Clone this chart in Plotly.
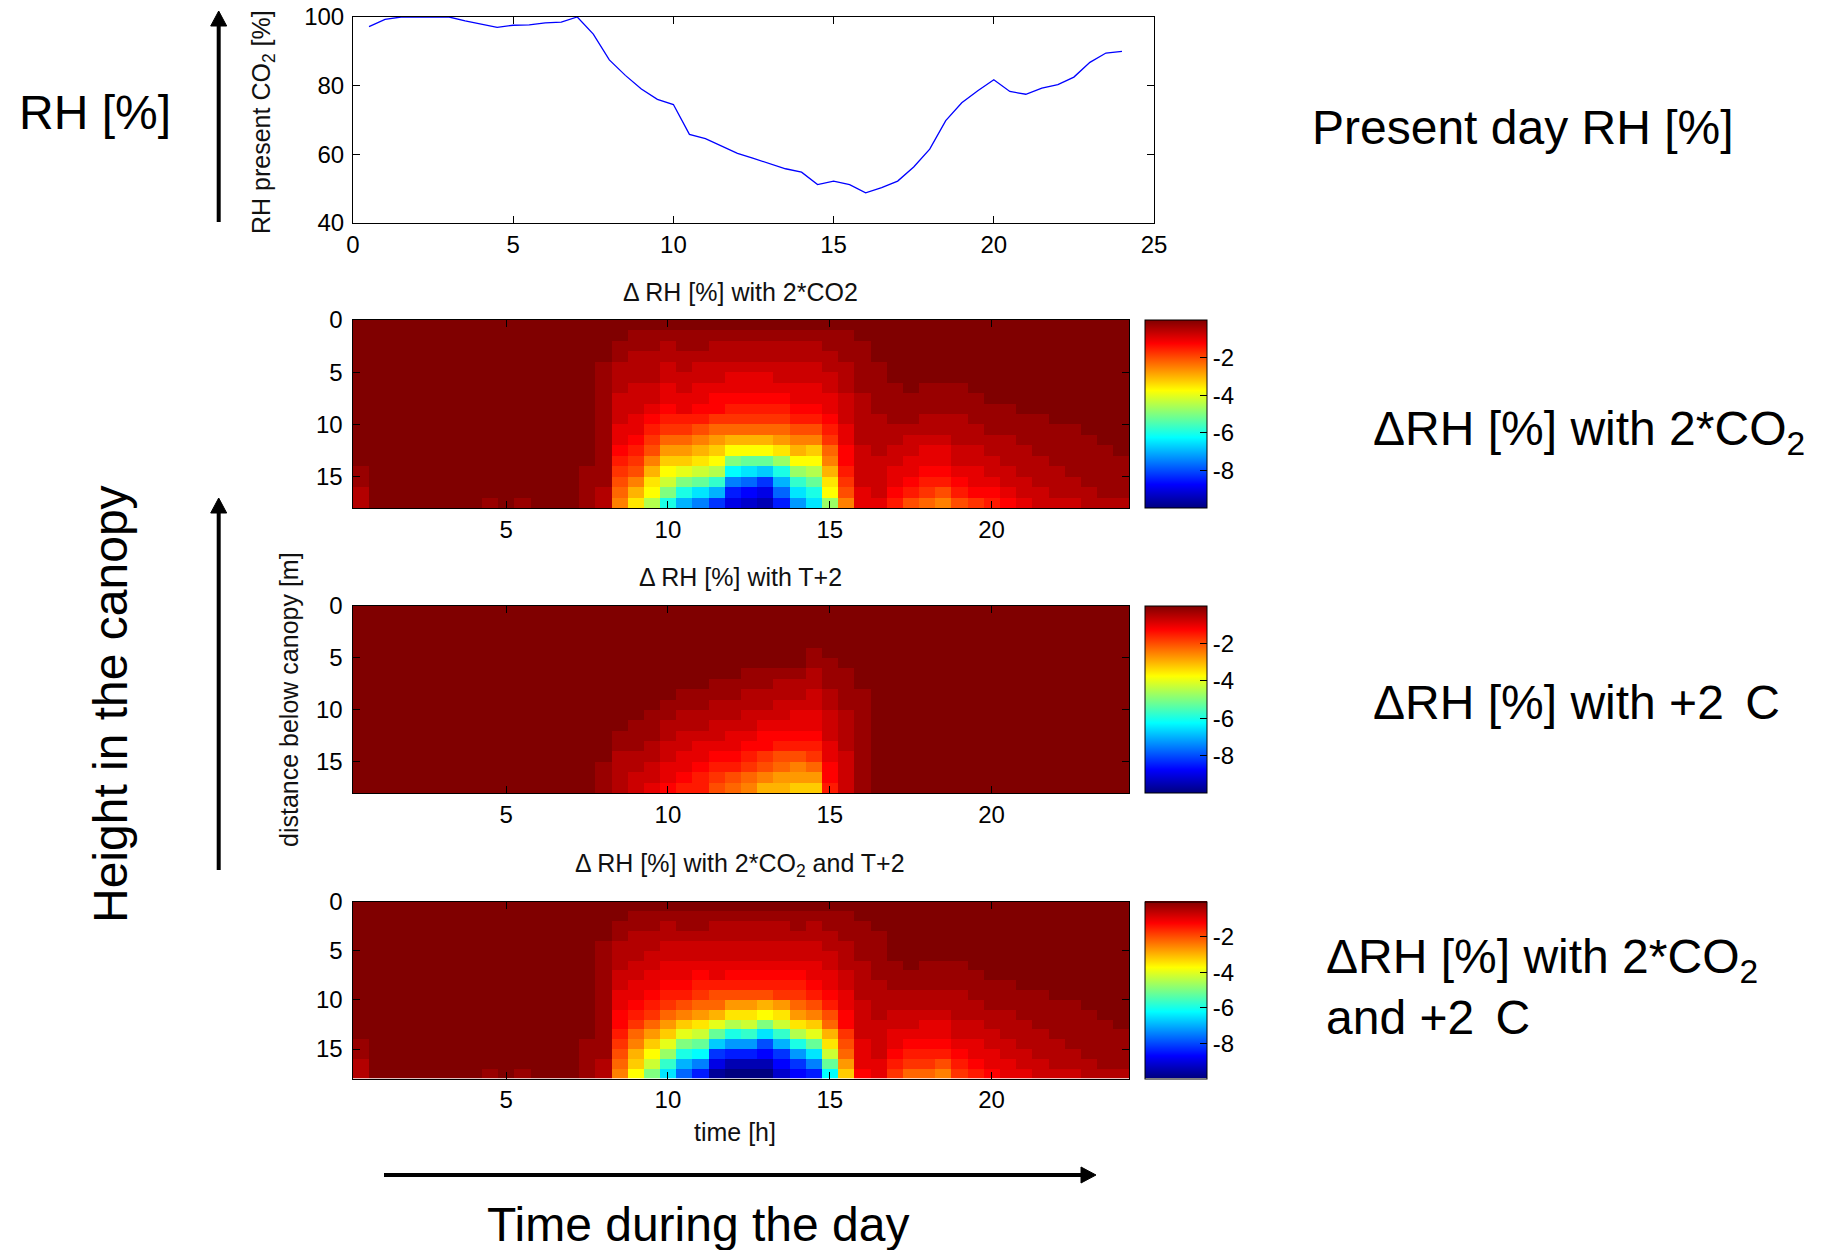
import plotly.graph_objects as go

W, H = 1824, 1250

# ---------------- data ----------------
HOURS = [0.5, 1.0, 1.5, 2.0, 2.5, 3.0, 3.5, 4.0, 4.5, 5.0, 5.5, 6.0,
         6.5, 7.0, 7.5, 8.0, 8.5, 9.0, 9.5, 10.0, 10.5, 11.0, 11.5, 12.0,
         12.5, 13.0, 13.5, 14.0, 14.5, 15.0, 15.5, 16.0, 16.5, 17.0, 17.5, 18.0,
         18.5, 19.0, 19.5, 20.0, 20.5, 21.0, 21.5, 22.0, 22.5, 23.0, 23.5, 24.0]

DEPTHS = [0.5, 1.5, 2.5, 3.5, 4.5, 5.5, 6.5, 7.5, 8.5, 9.5, 10.5, 11.5,
          12.5, 13.5, 14.5, 15.5, 16.5, 17.5]

RH_PRESENT = [97.2, 99.3, 100.0, 100.0, 100.0, 100.0, 98.9, 97.9, 97.0, 97.6, 97.7, 98.3,
              98.5, 100.0, 95.0, 87.5, 83.0, 79.0, 76.0, 74.5, 65.8, 64.6, 62.5, 60.3,
              58.8, 57.3, 55.8, 54.8, 51.2, 52.2, 51.2, 48.8, 50.3, 52.2, 56.3, 61.5,
              69.8, 75.0, 78.5, 81.7, 78.3, 77.5, 79.3, 80.3, 82.5, 86.8, 89.5, 90.0]

# each string = one time column, top (0 m) -> bottom (18 m); char index * -0.25 = dRH [%]
LEVELS = "0123456789abcdefghijklmnopqrstuvwxyzABCDE"
STEP = 0.25

DRH_2CO2_COLS = [
    "000000000000001122", "000000000000000000", "000000000000000000", "000000000000000000",
    "000000000000000000", "000000000000000000", "000000000000000000", "000000000000000000",
    "000000000000000001", "000000000000000000", "000000000000000001", "000000000000000000",
    "000000000000000000", "000000000000000000", "000000000000001111", "000011111111111122",
    "00112223334456789a", "011222333445678ace", "0112223345678acefi", "012233445679bdfhko",
    "011223344679bdgkos", "01123344568acehlqu", "01223345579bdfinsx", "01223445679cfkpuyA",
    "01223445679cflqvzB", "01223445679cflrxAC", "01223345679bejosvy", "01223344568acfjnqt",
    "01223344568adfiloq", "0112233445679acefj", "01112223334455678a", "001111122222333344",
    "000011111222233334", "000000111122334456", "000000011123344568", "000000111223445679",
    "00000011122344568a", "000000111222334568", "000000011122334457", "000000001112233456",
    "000000001112223345", "000000000111222334", "000000000111122233", "000000000011112223",
    "000000000011111223", "000000000001111122", "000000000000111112", "000000000000011112",
]

DRH_T2_COLS = [
    "000000000000000000", "000000000000000000", "000000000000000000", "000000000000000000",
    "000000000000000000", "000000000000000000", "000000000000000000", "000000000000000000",
    "000000000000000000", "000000000000000000", "000000000000000000", "000000000000000000",
    "000000000000000000", "000000000000000000", "000000000000000000", "000000000000000111",
    "000000000000112222", "000000000001112233", "000000000011122334", "000000000112233445",
    "000000001122334456", "000000001122344566", "000000011223345678", "000000011223445689",
    "00000011223345679a", "0000001122345578ac", "0000001223345689bc", "000000122344568abd",
    "0000112233445679bd", "000001112233344556", "000000111122223333", "000000001111111111",
    "000000000000000000", "000000000000000000", "000000000000000000", "000000000000000000",
    "000000000000000000", "000000000000000000", "000000000000000000", "000000000000000000",
    "000000000000000000", "000000000000000000", "000000000000000000", "000000000000000000",
    "000000000000000000", "000000000000000000", "000000000000000000", "000000000000000000",
]

DRH_BOTH_COLS = [
    "000000000000001122", "000000000000000000", "000000000000000000", "000000000000000000",
    "000000000000000000", "000000000000000000", "000000000000000000", "000000000000000000",
    "000000000000000001", "000000000000000000", "000000000000000001", "000000000000000000",
    "000000000000000000", "000000000000000000", "000000000000001111", "000011111111111122",
    "00112223344556789a", "01122233445679acdf", "0112233445679bdfhk", "012233445679bdgjnq",
    "01123344568adgkosv", "01123345679behlpuy", "01223344689cglrxAD", "0122334568beiotyCE",
    "0122334568behntyCE", "0122334568cfkqwzCE", "0122334567behnsxzB", "01123345679beiotxz",
    "01223344568adglquy", "0112233445689cehlp", "0111222334455789bd", "001111222233334445",
    "000111112222333344", "000000111223344567", "000000011223345679", "000000111223445679",
    "00000011122344568a", "000000111222334567", "000000011122334456", "000000001112233445",
    "000000001112223344", "000000000111222334", "000000000111122233", "000000000011112223",
    "000000000011111223", "000000000001111122", "000000000000111112", "000000000000011112",
]

X_TICKS_TOP = [0, 5, 10, 15, 20, 25]
Y_TICKS_TOP = [40, 60, 80, 100]
X_TICKS_HM = [5, 10, 15, 20]
Y_TICKS_HM = [0, 5, 10, 15]
CB_TICKS = [-2, -4, -6, -8]
CB_TICKTEXT = ["-2", "-4", "-6", "-8"]


def decode(cols):
    n = len(DEPTHS)
    z = [[0.0] * len(cols) for _ in range(n)]
    for j, s in enumerate(cols):
        s = (s + s[-1] * n)[:n]
        for i, c in enumerate(s):
            z[i][j] = -STEP * LEVELS.index(c)
    return z


# ---------------- layout helpers ----------------
def PX(x):
    return x / W


def PY(y):
    return 1 - y / H


FONT = "Liberation Sans, Arial, Helvetica, sans-serif"
JET = [[0.0, "rgb(0,0,128)"], [0.125, "rgb(0,0,255)"], [0.375, "rgb(0,255,255)"],
       [0.625, "rgb(255,255,0)"], [0.875, "rgb(255,0,0)"], [1.0, "rgb(128,0,0)"]]

TICK_SIZE = 24
LABEL_SIZE = 25
BIG = 48

HM_LEFT, HM_RIGHT = 352.5, 1129
HM_ROWS = [(320, 508), (606, 793), (901.5, 1078.5)]
CB_LEFT, CB_W = 1145, 62

fig = go.Figure()

fig.add_trace(go.Scatter(x=HOURS, y=RH_PRESENT, mode="lines",
                         line=dict(color="#0000ff", width=1.3),
                         xaxis="x", yaxis="y", hoverinfo="skip"))

for k, cols in enumerate([DRH_2CO2_COLS, DRH_T2_COLS, DRH_BOTH_COLS]):
    top, bot = HM_ROWS[k]
    fig.add_trace(go.Heatmap(
        x=HOURS, y=DEPTHS, z=decode(cols),
        colorscale=JET, zmin=-10, zmax=0,
        xaxis="x%d" % (k + 2), yaxis="y%d" % (k + 2),
        colorbar=dict(x=PX(CB_LEFT), xanchor="left", y=PY(top), yanchor="top",
                      len=(bot - top) / H, lenmode="fraction",
                      thickness=CB_W, thicknessmode="pixels", xpad=0, ypad=0,
                      outlinewidth=1, outlinecolor="black",
                      tickvals=CB_TICKS, ticktext=CB_TICKTEXT,
                      ticks="inside", ticklen=7, tickcolor="black",
                      tickfont=dict(family=FONT, size=TICK_SIZE, color="black")),
    ))

axis_common = dict(showline=True, linecolor="black", linewidth=1, mirror="ticks",
                   ticks="inside", ticklen=7, tickcolor="black", showgrid=False,
                   zeroline=False, automargin=False,
                   tickfont=dict(family=FONT, size=TICK_SIZE, color="black"))

layout = dict(
    width=W, height=H, margin=dict(l=0, r=0, t=0, b=0, pad=0, autoexpand=False),
    paper_bgcolor="white", plot_bgcolor="white", showlegend=False,
    xaxis=dict(domain=[PX(353), PX(1154)], anchor="y", range=[0, 25],
               tickvals=X_TICKS_TOP, ticklabelstandoff=0, **axis_common),
    yaxis=dict(domain=[PY(223), PY(17)], anchor="x", range=[40, 100],
               tickvals=Y_TICKS_TOP, ticklabelstandoff=3, **axis_common),
)
for k in range(3):
    top, bot = HM_ROWS[k]
    layout["xaxis%d" % (k + 2)] = dict(domain=[PX(HM_LEFT), PX(HM_RIGHT)], anchor="y%d" % (k + 2),
                                       range=[0.25, 24.25], tickvals=X_TICKS_HM,
                                       ticklabelstandoff=0, **axis_common)
    layout["yaxis%d" % (k + 2)] = dict(domain=[PY(bot), PY(top)], anchor="x%d" % (k + 2),
                                       range=[18, 0], tickvals=Y_TICKS_HM,
                                       ticklabelstandoff=4, **axis_common)
fig.update_layout(**layout)


def ann(text, x, y, size, xanchor="center", angle=0, color="black"):
    fig.add_annotation(text=text, x=PX(x), y=PY(y), xref="paper", yref="paper",
                       showarrow=False, xanchor=xanchor, yanchor="middle",
                       textangle=angle, font=dict(family=FONT, size=size, color=color))


# axis titles / panel titles
ann("Δ RH [%] with 2*CO2", 740, 292, LABEL_SIZE, color="#111111")
ann("Δ RH [%] with T+2", 740, 577, LABEL_SIZE, color="#111111")
ann("Δ RH [%] with 2*CO<sub>2</sub> and T+2", 740, 865, LABEL_SIZE, color="#111111")
ann("RH present CO<sub>2</sub> [%]", 263, 122, LABEL_SIZE, angle=-90, color="#111111")
ann("distance below canopy [m]", 289, 700, LABEL_SIZE, angle=-90, color="#111111")
ann("time [h]", 735, 1132, LABEL_SIZE, color="#111111")

# large explanatory labels
ann("RH [%]", 95, 112, BIG)
ann("Height in the canopy", 110, 704, BIG, angle=-90)
ann("Time during the day", 698, 1224, BIG)
ann("Present day RH [%]", 1310, 127, BIG, xanchor="left")
ann("ΔRH [%] with 2*CO<sub>2</sub>", 1371, 432, BIG, xanchor="left")
ann("ΔRH [%] with +2\u00a0\u2006C", 1371, 702, BIG, xanchor="left")
ann("ΔRH [%] with 2*CO<sub>2</sub>", 1324, 960, BIG, xanchor="left")
ann("and +2\u00a0\u2006C", 1324, 1017, BIG, xanchor="left")

# arrows
shapes = []


def vline_arrow(x, y0, ytip):
    shapes.append(dict(type="line", xref="paper", yref="paper",
                       x0=PX(x), x1=PX(x), y0=PY(y0), y1=PY(ytip + 12),
                       line=dict(color="black", width=4)))
    shapes.append(dict(type="path", xref="paper", yref="paper",
                       path="M %f %f L %f %f L %f %f Z" % (PX(x - 8), PY(ytip + 15), PX(x + 8), PY(ytip + 15), PX(x), PY(ytip)),
                       fillcolor="black", line=dict(color="black", width=1)))


def hline_arrow(y, x0, xtip):
    shapes.append(dict(type="line", xref="paper", yref="paper",
                       x0=PX(x0), x1=PX(xtip - 12), y0=PY(y), y1=PY(y),
                       line=dict(color="black", width=4)))
    shapes.append(dict(type="path", xref="paper", yref="paper",
                       path="M %f %f L %f %f L %f %f Z" % (PX(xtip - 15), PY(y - 8), PX(xtip - 15), PY(y + 8), PX(xtip), PY(y)),
                       fillcolor="black", line=dict(color="black", width=1)))


vline_arrow(218.7, 222, 11)
vline_arrow(218.7, 870, 498)
hline_arrow(1175, 384, 1096)
fig.update_layout(shapes=shapes)

fig.write_html("out.html", config={"displayModeBar": False},
               post_script="document.body.style.margin='0px';")
